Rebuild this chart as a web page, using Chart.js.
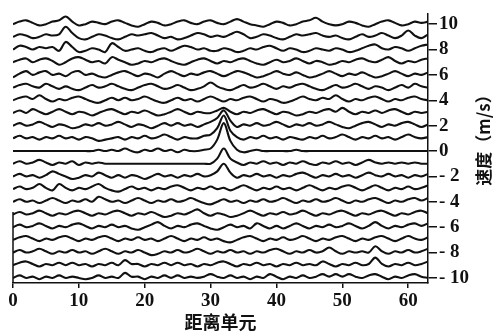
<!DOCTYPE html>
<html>
<head>
<meta charset="utf-8">
<script src="https://cdn.jsdelivr.net/npm/chart.js@4.4.0/dist/chart.umd.min.js"></script>
<style>
  html, body { margin: 0; padding: 0; background: #fff; }
</style>
</head>
<body>
<canvas id="chart-range" width="496" height="333"></canvas>
<script>
// velocity of each trace (m/s), top to bottom
const velocities = [10, 9, 8, 7, 6, 5, 4, 3, 2, 1, 0, -1, -2, -3, -4, -5, -6, -7, -8, -9, -10];
const xTicks = [0, 10, 20, 30, 40, 50, 60];
const yTicks = [10, 8, 6, 4, 2, 0, -2, -4, -6, -8, -10];

// deviation of each trace from its velocity line, in 0.1 m/s, range cells 0..63
const devP10 = [0,2,3,1,-1,0,2,3, 6,2,-1,0,2,1,0,2, 3,1,-1,-2,0,2,1,-1, 0,2,3,1,0,2,3,1, 0,2,4,2,0,-1,-2,0, 2,1,-1,0,2,3,5,2, 0,-1,0,2,1,-1,-2,0, 2,3,1,-1,0,2,1,2];
const devP9  = [0,2,1,-1,0,2,1,2, 8,3,-1,-2,0,2,1,-1, -2,0,2,1,2,3,1,-1, 0,-2,-1,1,3,2,0,1, 0,2,4,2,-1,0,2,1, -1,-2,0,2,1,2,3,1, 0,1,-1,-2,0,2,0,1, 3,1,-1,1,5,1,-1,2];
const devP8  = [0,3,2,0,2,1,2,-1, 6,2,-2,-1,1,0,-2,5, 2,-1,0,1,-1,-2,0,1, -1,1,3,2,0,1,-1,-1, 1,0,-2,-1,1,0,2,3, 1,-1,1,0,-2,-1,1,0, -1,1,0,-2,-1,1,3,4, 1,0,2,1,-1,1,3,4];
const devP7  = [0,2,3,0,2,3,1,-2, 0,3,4,2,0,1,-1,4, 2,0,-2,-1,1,0,2,3, 1,-1,-2,0,2,3,1,-1, 1,0,2,3,1,-1,-2,0, 2,0,1,3,1,-1,1,0, -2,-1,1,0,2,3,1,0, 2,4,1,-1,1,0,2,3];
const devP6  = [-2,1,3,0,2,3,0,1, -1,2,3,0,1,-1,-2,0, 2,3,1,-1,1,0,-2,1, 3,1,-1,1,0,2,3,1, -1,1,3,2,0,-2,-1,1, 3,1,0,2,0,-2,-1,1, 3,1,-1,1,0,2,0,-2, -1,1,3,1,-1,1,0,2];
const devP5  = [0,2,3,1,0,3,1,-1, 1,-1,-2,0,2,0,1,3, 1,-1,-2,0,2,3,1,-1, 0,2,0,-2,-1,1,4,1, -1,-2,0,2,0,1,3,1, -1,1,0,2,3,1,-1,-2, 0,2,0,1,3,1,-1,1, 0,-2,0,2,0,3,1,0];
const devP4  = [0,2,3,1,4,1,-1,1, 0,2,3,1,-1,-2,0,2, 0,2,0,1,3,1,-1,-2, 0,2,0,1,-1,1,3,1, -1,1,0,2,3,1,-1,1, 0,-2,-1,1,3,1,0,2, 1,4,1,-1,1,0,2,3, 1,-1,1,0,2,3,1,0];
const devP3  = [0,2,0,3,1,-1,1,3, 1,-1,1,0,-2,0,2,3, 1,-1,1,0,2,0,-2,-1, 1,3,1,-1,1,0,0,2, 4,1,-1,1,0,2,3,1, -1,1,0,-2,-1,1,0,2, 3,1,4,1,-1,1,0,2, 0,2,3,1,-1,1,0,1];
const devP2  = [0,2,0,1,3,1,-1,1, 0,-2,-1,1,0,2,0,1, 3,1,-1,1,0,-2,0,2, 0,2,0,1,-1,1,3,6, 12,4,-1,1,0,2,0,1, 3,1,-1,1,0,2,0,1, 3,1,-1,-2,0,2,3,1, -1,1,0,2,3,1,-1,1];
const devP1  = [0,2,0,1,-1,1,0,2, 0,1,-1,1,0,-2,-1,0, 1,-1,1,0,2,0,1,3, 1,-1,1,0,0,2,3,8, 18,6,1,-1,1,0,2,0, 1,-1,1,0,-1,1,0,2, 0,1,3,1,-1,1,0,2, 0,1,-1,1,3,1,0,1];
const dev0   = [0,0,0,0,0,0,0,0, 0,0,0,0,0,1,0,1, 0,2,0,-1,1,0,2,0, 1,-1,1,0,0,1,2,9, 22,8,1,-1,0,1,0,0, 0,0,0,1,0,0,0,0, 0,0,0,0,0,0,0,0, 0,0,0,0,0,0,0,0];
const devM1  = [0,2,0,1,3,1,-1,1, 0,2,-1,1,0,1,0,0, 0,0,0,0,0,0,0,0, 0,0,0,0,0,0,0,4, 12,4,1,-1,1,0,2,0, 1,-1,1,0,2,0,-1,1, 0,2,0,1,-1,1,3,1, 0,1,0,1,0,1,0,0];
const devM2  = [0,2,0,1,-1,1,4,2, 0,-2,-1,1,0,3,1,-1, 1,-1,1,0,-2,0,2,0, 1,-1,1,0,2,0,1,4, 10,3,-1,1,0,2,0,1, -1,1,0,2,3,1,-1,1, 0,2,0,1,-1,1,3,1, 0,2,0,1,-1,1,0,2];
const devM3  = [0,2,0,1,4,1,-1,4, 1,-1,1,0,2,4,1,-1, -2,0,2,0,1,-1,1,0, 2,3,1,-1,1,0,2,0, 1,-1,1,3,1,-1,1,0, 2,0,1,-1,1,3,1,-1, 1,0,2,3,1,-1,1,3, 1,-1,1,0,2,0,1,3];
const devM4  = [0,2,0,1,-1,1,3,1, -1,1,0,2,0,4,2,0, 1,-1,1,3,1,-1,1,0, 2,0,1,3,1,-1,-2,0, 2,0,1,-1,1,0,2,0, 1,3,1,-1,1,0,2,0, 1,3,1,-1,1,0,2,3, 1,-1,1,0,2,3,1,3];
const devM5  = [0,2,0,1,3,1,-1,1, 0,2,3,1,-1,1,0,2, 3,1,-1,1,0,2,0,-2, -1,1,0,2,4,1,-1,1, 0,-2,-1,1,3,1,-1,1, 0,2,0,1,3,1,-1,1, 0,2,3,1,-1,1,0,2, 3,1,-1,1,0,2,3,1];
const devM6  = [0,2,0,1,3,1,-1,1, 0,2,3,1,-1,1,0,2, 0,1,-1,-2,0,2,4,1, -1,1,0,2,3,1,-1,-2, 0,2,0,1,-1,3,1,-1, 1,-1,1,3,1,-1,1,0, 2,0,1,3,1,-1,1,4, 1,-1,1,0,2,3,1,3];
const devM7  = [0,2,3,1,-1,1,0,2, 3,1,-1,1,0,2,3,1, -1,1,0,2,0,1,-1,1, 3,1,-1,1,0,2,0,1, -1,-2,0,2,3,1,-1,1, 0,2,0,1,3,1,-1,1, 0,2,3,1,-1,1,0,2, 3,1,-1,1,3,1,0,2];
const devM8  = [0,2,0,1,3,1,-1,1, 0,2,0,1,-1,1,3,1, -1,1,0,2,0,-2,-1,1, 0,2,0,1,3,1,-1,1, 0,2,0,1,-1,1,0,2, 3,1,-1,1,0,2,0,1, 4,1,-1,1,0,1,0,5, 1,-1,1,0,2,0,1,3];
const devM9  = [0,2,3,1,-1,1,0,2, 0,2,0,1,-1,1,0,2, 0,4,1,1,-1,1,0,2, 0,2,0,1,-1,1,0,2, 3,1,-1,1,0,2,0,1, -1,1,0,2,0,1,0,3, 1,-1,1,0,2,0,1,6, 1,-1,1,0,2,0,1,3];
const devM10 = [0,2,0,1,-1,1,0,2, 0,1,0,-1,0,2,0,1, 0,4,1,1,-1,1,0,2, 0,2,0,1,0,1,3,1, 0,2,0,1,-1,1,0,3, 1,-1,1,0,2,0,1,3, 1,3,1,3,1,0,2,3, 1,-1,1,0,2,3,1,0];

const traces = [devP10, devP9, devP8, devP7, devP6, devP5, devP4, devP3, devP2, devP1, dev0,
  devM1, devM2, devM3, devM4, devM5, devM6, devM7, devM8, devM9, devM10];

const INK = '#111';
const serifBold = { family: "'Liberation Serif', 'DejaVu Serif', serif", size: 19, weight: 'bold' };

// y title reads bottom to top on the right side, and a short left axis stub
const framePlugin = {
  id: 'frame',
  afterDraw(chart) {
    const ctx = chart.ctx;
    const { left, bottom } = chart.chartArea;
    const yScale = chart.scales.y;
    ctx.save();
    ctx.strokeStyle = INK;
    ctx.lineWidth = 1.5;
    ctx.beginPath();
    ctx.moveTo(left, yScale.getPixelForValue(-4.8));
    ctx.lineTo(left, bottom);
    ctx.stroke();

    ctx.translate(484, 136);
    ctx.rotate(-Math.PI / 2);
    ctx.font = "bold 17px 'Noto Sans CJK SC'";
    ctx.fillStyle = INK;
    ctx.textAlign = 'center';
    ctx.textBaseline = 'middle';
    ctx.fillText('速度（m/s）', 0, 0);
    ctx.restore();
  },
};

const ctx = document.getElementById('chart-range').getContext('2d');
new Chart(ctx, {
  type: 'line',
  data: {
    datasets: velocities.map((v, k) => ({
      label: `${v} m/s`,
      data: traces[k].map((d, i) => ({ x: i, y: v + d / 10 })),
      borderColor: INK,
      borderWidth: 2.1,
      pointRadius: 0,
      fill: false,
      tension: 0.35,
    })),
  },
  options: {
    responsive: false,
    animation: false,
    devicePixelRatio: 1,
    layout: { padding: { left: 13, top: 14, right: 0, bottom: 0 } },
    plugins: {
      legend: { display: false },
      tooltip: { enabled: false },
    },
    scales: {
      x: {
        type: 'linear',
        min: 0,
        max: 63,
        afterBuildTicks: scale => { scale.ticks = xTicks.map(value => ({ value })); },
        afterFit: scale => { scale.height = 50; },
        border: { display: true, color: INK, width: 1.5 },
        grid: { drawOnChartArea: false, drawTicks: true, tickLength: 5, color: INK, lineWidth: 1.5 },
        ticks: { color: INK, font: serifBold, padding: 2, maxRotation: 0, autoSkip: false },
        title: {
          display: true,
          text: '距离单元',
          color: INK,
          font: { family: "'Noto Sans CJK SC'", size: 18, weight: 'bold' },
          padding: { top: 0, bottom: 0 },
        },
      },
      y: {
        type: 'linear',
        position: 'right',
        min: -10.4,
        max: 10.8,
        afterBuildTicks: scale => { scale.ticks = yTicks.map(value => ({ value })); },
        afterFit: scale => { scale.width = 68; },
        border: { display: true, color: INK, width: 1.5 },
        grid: { drawOnChartArea: false, drawTicks: true, tickLength: 9, color: INK, lineWidth: 1.5 },
        ticks: {
          color: INK,
          font: serifBold,
          padding: 2,
          callback: value => (value < 0 ? '- ' + Math.abs(value) : String(value)),
        },
      },
    },
  },
  plugins: [framePlugin],
});
</script>
</body>
</html>
